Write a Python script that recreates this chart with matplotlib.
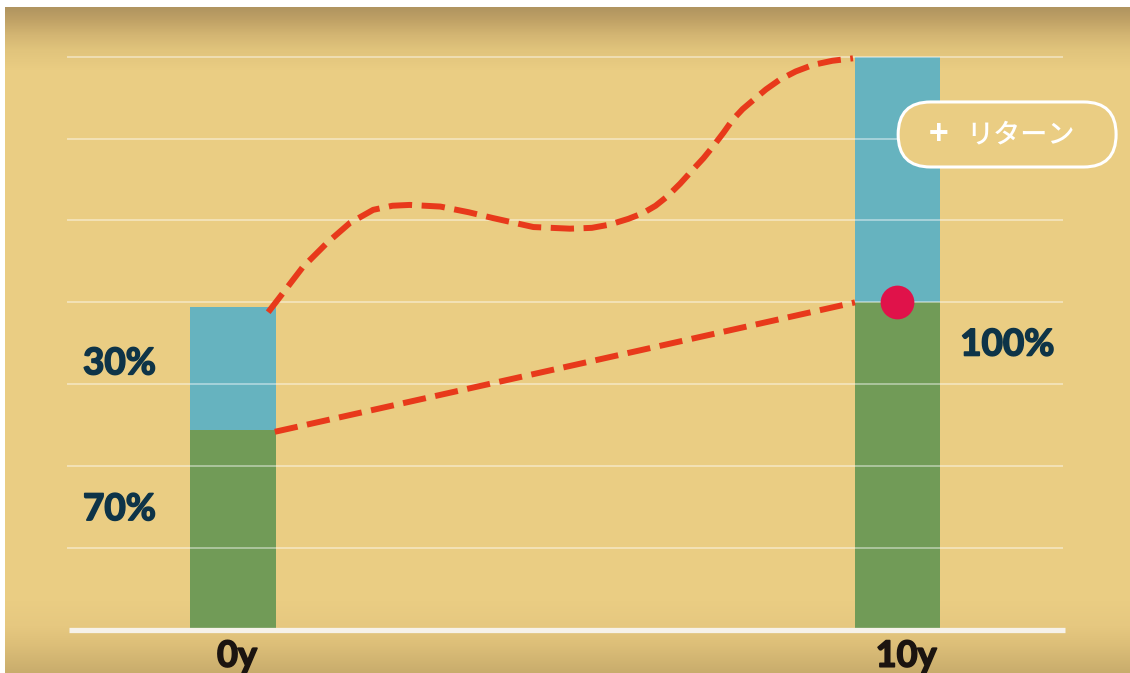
import numpy as np
import matplotlib
matplotlib.use('Agg')
import matplotlib.pyplot as plt
import matplotlib.patheffects as pe
from matplotlib.patches import FancyBboxPatch

# --- data ---------------------------------------------------------------
years = ['0y', '10y']
year_x = [0, 10]
base_part = [2.44, 4.0]      # green (principal)
gain_part = [1.50, 3.0]      # blue (return) stacked on top
share_labels = [('30%', -1.71, 3.25), ('70%', -1.71, 1.47), ('100%', 11.65, 3.48)]

# straight path of the principal
line_x = [0.63, 9.36]
line_y = [2.42, 4.00]

# path of the value with returns
curve_x = [0.53, 0.71, 1.05, 1.42, 1.76, 2.11, 2.40, 2.66, 3.12, 3.55, 3.91, 4.52,
           5.07, 5.40, 5.67, 5.95, 6.17, 6.36, 6.53, 6.73, 6.92, 7.08, 7.22, 7.38,
           7.52, 7.67, 7.83, 8.02, 8.23, 8.47, 8.73, 9.02, 9.33]
curve_y = [3.88, 4.07, 4.43, 4.73, 4.97, 5.13, 5.18, 5.19, 5.17, 5.10, 5.03, 4.92,
           4.90, 4.91, 4.95, 5.02, 5.09, 5.18, 5.29, 5.45, 5.62, 5.76, 5.90, 6.07,
           6.23, 6.36, 6.47, 6.60, 6.72, 6.82, 6.90, 6.95, 6.98]

grid_levels = [1, 2, 3, 4, 5, 6, 7]

# --- colours ------------------------------------------------------------
bg = np.array([234, 205, 131]) / 255
green = '#719B57'
blue = '#66B3BF'
red = '#E8391B'
dot = '#E0124A'
navy = '#0E3448'

W, H = 1130, 673
fig = plt.figure(figsize=(W / 100, H / 100), dpi=100, facecolor='white')

# background with darker top / bottom edges
bg_ax = fig.add_axes([5 / W, 0, 1 - 5 / W, 1 - 7 / H])
rows = np.arange(7, H)
stops_y = [7, 20, 35, 50, 70, 600, 625, 645, 673]
stops_c = np.array([[176, 148, 96], [192, 162, 102], [212, 182, 115], [225, 196, 124],
                    [234, 205, 131], [234, 205, 131], [230, 200, 128], [220, 190, 120],
                    [200, 172, 108]]) / 255
grad = np.stack([np.interp(rows, stops_y, stops_c[:, k]) for k in range(3)], axis=-1)
bg_ax.imshow(grad[:, None, :], aspect='auto', extent=[0, 1, 0, 1])
bg_ax.axis('off')

ax = fig.add_axes([0, 0, 1, 1])
ax.patch.set_alpha(0)
ax.set_xlim(-3.506, 13.499)
ax.set_ylim(-0.525, 7.692)
ax.axis('off')

bar_w = 1.28
ax.bar(year_x, base_part, width=bar_w, color=green, zorder=2)
ax.bar(year_x, gain_part, bottom=base_part, width=bar_w, color=blue, zorder=2)

# light grid lines and the baseline
ax.hlines(grid_levels, -2.50, 12.49, color='white', alpha=0.45, lw=1.3, zorder=3)
ax.hlines(0, -2.47, 12.52, color='#F6F2EA', lw=3.8, zorder=3)

ax.plot(line_x, line_y, color=red, lw=4.3, dashes=(3.9, 1.6), zorder=4,
        dash_capstyle='butt')
ax.plot(curve_x, curve_y, color=red, lw=4.3, dashes=(3.9, 1.6), zorder=4,
        dash_capstyle='butt', dash_joinstyle='round')

ax.scatter([year_x[1]], [base_part[1]], s=590, color=dot, zorder=5, linewidths=0)

# heavier lettering: bold face plus a thin outline in the same colour
label_family = ['Lato', 'DejaVu Sans']
for txt, x, y in share_labels:
    ax.text(x, y, txt, family=label_family, fontweight='bold', color=navy,
            fontsize=26.5, ha='center', va='center',
            path_effects=[pe.withStroke(linewidth=1.2, foreground=navy)])

for yr, x in zip(years, [0.06, 10.13]):
    ax.text(x, -0.32, yr, family=label_family, fontweight='bold',
            color='#1B1410', fontsize=26, ha='center', va='center', zorder=5,
            path_effects=[pe.withStroke(linewidth=1.2, foreground='#1B1410')])

# "+ リターン" pill
pill = FancyBboxPatch((10.01, 5.653), 3.28, 0.794,
                      boxstyle='round,pad=0,rounding_size=0.489', mutation_aspect=0.811,
                      facecolor=bg, edgecolor='white', lw=2.2, zorder=6)
ax.add_patch(pill)
ax.text(10.62, 6.04, '+', family=['Noto Sans CJK JP', 'DejaVu Sans'], fontsize=24,
        color='white', ha='center', va='center', zorder=7, fontweight='bold')
ax.text(11.85, 6.05, 'リターン', family=['Noto Sans CJK JP', 'DejaVu Sans'], fontsize=19.5,
        color='white', ha='center', va='center', zorder=7, fontweight='medium')

fig.savefig('out.png', dpi=100, facecolor='white')
